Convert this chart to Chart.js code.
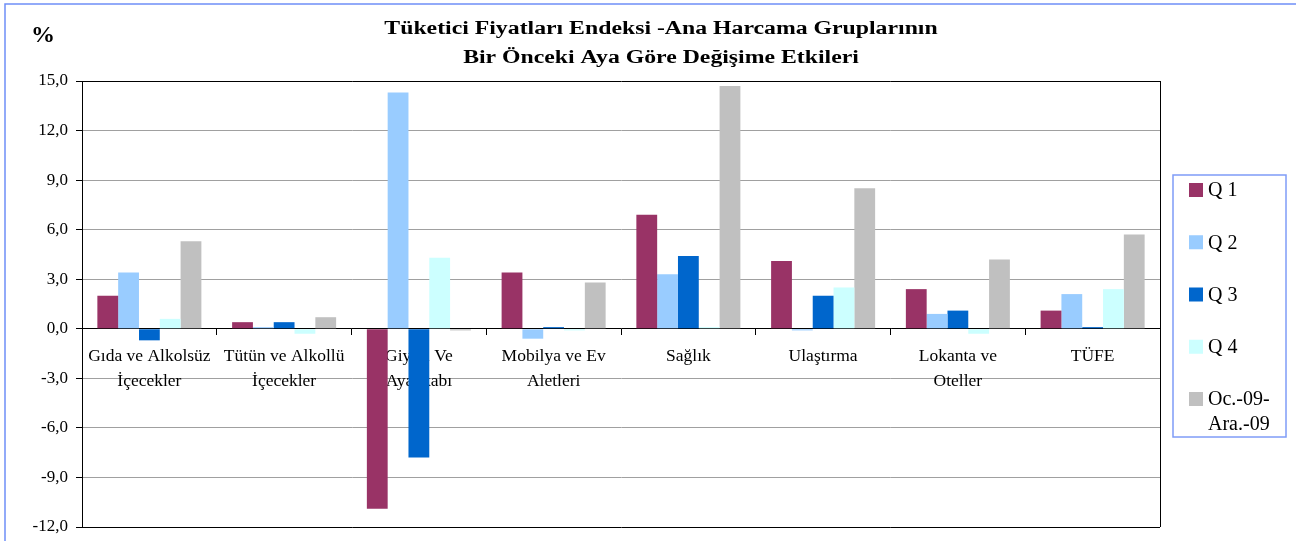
<!DOCTYPE html>
<html>
<head>
<meta charset="utf-8">
<script src="https://cdn.jsdelivr.net/npm/chart.js@4.4.1/dist/chart.umd.min.js"></script>
<style>
    html, body { margin: 0; padding: 0; background: #fff; }
    #wrap { width: 1296px; height: 541px; }
</style>
</head>
<body>
<div id="wrap"><canvas id="cpi_chart" width="1296" height="541"></canvas></div>
<script>
const categories = [
    ['Gıda ve Alkolsüz', 'İçecekler'],
    ['Tütün ve Alkollü', 'İçecekler'],
    ['Giyim Ve', 'Ayakkabı'],
    ['Mobilya ve Ev', 'Aletleri'],
    'Sağlık',
    'Ulaştırma',
    ['Lokanta ve', 'Oteller'],
    'TÜFE'
];
const seriesNames = ['Q 1', 'Q 2', 'Q 3', 'Q 4', 'Oc.-09-\nAra.-09'];
const seriesColors = ['#993366', '#99CCFF', '#0066CC', '#CCFFFF', '#C0C0C0'];

const q1 = [2.0, 0.4, -10.9, 3.4, 6.9, 4.1, 2.4, 1.1];
const q2 = [3.4, 0.1, 14.3, -0.6, 3.3, -0.1, 0.9, 2.1];
const q3 = [-0.7, 0.4, -7.8, 0.1, 4.4, 2.0, 1.1, 0.1];
const q4 = [0.6, -0.3, 4.3, -0.1, 0.1, 2.5, -0.3, 2.4];
const ocAra = [5.3, 0.7, -0.1, 2.8, 14.7, 8.5, 4.2, 5.7];

const yTicks = [-12, -9, -6, -3, 0, 3, 6, 9, 12, 15];
const titleLines = ['Tüketici Fiyatları Endeksi -Ana Harcama Gruplarının', 'Bir Önceki Aya Göre Değişime Etkileri'];
const unitLabel = '%';

const serif = '"Liberation Serif", "Times New Roman", serif';

// page frame, title and the % mark
const frameAndTitle = {
    id: 'frameAndTitle',
    beforeDraw(chart) {
        const ctx = chart.ctx;
        ctx.save();
        ctx.fillStyle = '#fff';
        ctx.fillRect(0, 0, chart.width, chart.height);
        ctx.strokeStyle = '#6f8ef7';
        ctx.lineWidth = 1.5;
        ctx.beginPath();
        ctx.moveTo(5, chart.height);
        ctx.lineTo(5, 4);
        ctx.lineTo(chart.width, 4);
        ctx.stroke();
        ctx.restore();
    },
    afterDraw(chart) {
        const ctx = chart.ctx;
        const area = chart.chartArea;
        ctx.save();
        // right border of the plot
        ctx.strokeStyle = '#000';
        ctx.lineWidth = 1;
        ctx.beginPath();
        ctx.moveTo(Math.round(area.right) + 0.5, area.top);
        ctx.lineTo(Math.round(area.right) + 0.5, area.bottom);
        ctx.stroke();

        ctx.fillStyle = '#000';
        ctx.textAlign = 'center';
        ctx.textBaseline = 'middle';
        ctx.font = 'bold 18px ' + serif;
        titleLines.forEach((line, i) => {
            ctx.save();
            ctx.translate(661, 29 + i * 29);
            ctx.scale(1.32, 1);
            ctx.fillText(line, 0, 0);
            ctx.restore();
        });
        ctx.font = 'bold 24px ' + serif;
        ctx.fillText(unitLabel, 43, 36);
        ctx.restore();
    }
};

// boxed legend on the right
const legendBox = {
    id: 'legendBox',
    afterDraw(chart) {
        const ctx = chart.ctx;
        ctx.save();
        ctx.strokeStyle = '#7f9cf7';
        ctx.lineWidth = 1.5;
        ctx.strokeRect(1173, 175, 113, 262);
        ctx.font = '20px ' + serif;
        ctx.textBaseline = 'middle';
        ctx.textAlign = 'left';
        chart.data.datasets.forEach((ds, i) => {
            const cy = 190 + i * 52.25;
            ctx.fillStyle = ds.backgroundColor;
            ctx.fillRect(1189, cy - 7, 14, 14);
            ctx.fillStyle = '#000';
            ds.label.split('\n').forEach((line, j) => {
                ctx.fillText(line, 1208, cy + 1 + j * 25);
            });
        });
        ctx.restore();
    }
};

const seriesValues = [q1, q2, q3, q4, ocAra];

new Chart(document.getElementById('cpi_chart'), {
    type: 'bar',
    data: {
        labels: categories,
        datasets: seriesValues.map((values, i) => ({
            label: seriesNames[i],
            data: values,
            backgroundColor: seriesColors[i],
            borderWidth: 0
        }))
    },
    options: {
        responsive: false,
        animation: false,
        devicePixelRatio: 1,
        layout: {
            padding: { top: 81, right: 136, bottom: 14, left: 0 }
        },
        datasets: {
            bar: { barPercentage: 1, categoryPercentage: 0.772 }
        },
        plugins: {
            legend: { display: false },
            title: { display: false },
            tooltip: { enabled: false }
        },
        scales: {
            x: {
                position: { y: 0 },
                grid: {
                    drawOnChartArea: false,
                    drawTicks: true,
                    tickLength: 6,
                    tickColor: '#000',
                    offset: true
                },
                border: { color: '#000', width: 1 },
                ticks: {
                    color: '#000',
                    padding: 9,
                    maxRotation: 0,
                    autoSkip: false,
                    font: { family: serif, size: 17.5, lineHeight: 1.43 }
                },
                afterFit(scale) {
                    scale.paddingTop = 0;
                    scale.paddingBottom = 0;
                }
            },
            y: {
                min: -12,
                max: 15,
                afterBuildTicks(scale) {
                    scale.ticks = yTicks.map(v => ({ value: v }));
                },
                afterFit(scale) {
                    scale.width = 82;
                    scale.paddingTop = 0;
                    scale.paddingBottom = 0;
                },
                grid: {
                    color: ctx => (ctx.tick && (ctx.tick.value === 15 || ctx.tick.value === -12)) ? '#000' : '#a0a0a0',
                    tickColor: '#000',
                    tickLength: 6
                },
                border: { color: '#000' },
                ticks: {
                    color: '#000',
                    padding: 8,
                    font: { family: serif, size: 17 },
                    callback: v => v.toFixed(1).replace('.', ',')
                }
            }
        }
    },
    plugins: [frameAndTitle, legendBox]
});
</script>
</body>
</html>
